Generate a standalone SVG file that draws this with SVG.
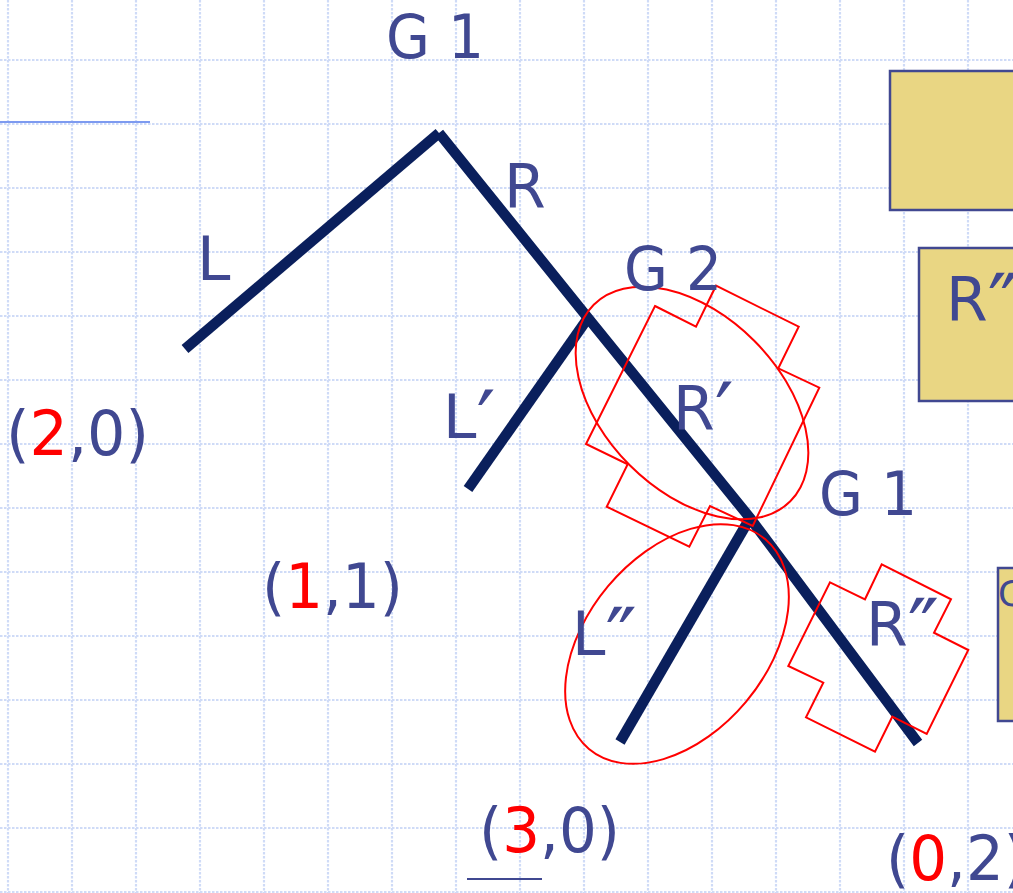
<svg xmlns="http://www.w3.org/2000/svg" width="1013" height="893" viewBox="0 0 1013 893">
<defs>
<style>
.grid line{stroke:#cfdbf7;stroke-width:2.2;stroke-dasharray:2.5 1.5}
.tree{stroke:#0a1f5c;stroke-width:10.5;fill:none;stroke-linecap:butt}
.red{stroke:#ff0000;stroke-width:2;fill:none}
.box{fill:#e9d683;stroke:#414891;stroke-width:2.5}
text{font-family:"DejaVu Sans","Liberation Sans",sans-serif;font-size:60px;fill:#404891}
.c{font-size:62px}
.r{fill:#ff0000}
.p{font-size:84px}
</style>
</defs>
<rect width="1013" height="893" fill="#ffffff"/>
<g class="grid" id="grid">
<line x1="8" y1="0" x2="8" y2="893"/><line x1="72" y1="0" x2="72" y2="893"/><line x1="136" y1="0" x2="136" y2="893"/><line x1="200" y1="0" x2="200" y2="893"/><line x1="264" y1="0" x2="264" y2="893"/><line x1="328" y1="0" x2="328" y2="893"/><line x1="392" y1="0" x2="392" y2="893"/><line x1="456" y1="0" x2="456" y2="893"/><line x1="520" y1="0" x2="520" y2="893"/><line x1="584" y1="0" x2="584" y2="893"/><line x1="648" y1="0" x2="648" y2="893"/><line x1="712" y1="0" x2="712" y2="893"/><line x1="776" y1="0" x2="776" y2="893"/><line x1="840" y1="0" x2="840" y2="893"/><line x1="904" y1="0" x2="904" y2="893"/><line x1="968" y1="0" x2="968" y2="893"/>
<line x1="0" y1="60" x2="1013" y2="60"/><line x1="0" y1="124" x2="1013" y2="124"/><line x1="0" y1="188" x2="1013" y2="188"/><line x1="0" y1="252" x2="1013" y2="252"/><line x1="0" y1="316" x2="1013" y2="316"/><line x1="0" y1="380" x2="1013" y2="380"/><line x1="0" y1="444" x2="1013" y2="444"/><line x1="0" y1="508" x2="1013" y2="508"/><line x1="0" y1="572" x2="1013" y2="572"/><line x1="0" y1="636" x2="1013" y2="636"/><line x1="0" y1="700" x2="1013" y2="700"/><line x1="0" y1="764" x2="1013" y2="764"/><line x1="0" y1="828" x2="1013" y2="828"/><line x1="0" y1="892" x2="1013" y2="892"/>
</g>
<line x1="0" y1="122" x2="150" y2="122" stroke="#7d9af0" stroke-width="2"/>
<line x1="467" y1="879" x2="542" y2="879" stroke="#404891" stroke-width="2"/>
<g id="box1"><rect class="box" x="890" y="71" width="140" height="139"/></g>
<g id="box2"><rect class="box" x="919" y="248" width="110" height="153"/><text x="946" y="321">R<tspan class="p" dy="13">″</tspan></text></g>
<g id="box3"><rect class="box" x="998" y="568" width="40" height="153"/><text x="998" y="606" style="font-size:36px">C</text></g>
<g id="connectors">
<line class="tree" x1="439" y1="133" x2="185" y2="349"/>
<polyline class="tree" points="439,133 588,318 750,518 918,743"/>
<line class="tree" x1="588" y1="318" x2="468" y2="489"/>
<line class="tree" x1="750" y1="518" x2="620" y2="742"/>
</g>
<g id="highlights">
<ellipse class="red" cx="692" cy="403" rx="139" ry="88" transform="rotate(45 692 403)"/>
<ellipse class="red" cx="677" cy="644" rx="137" ry="90" transform="rotate(-50 677 644)"/>
<polygon class="red" points="655,306 696,326.7 716,285.7 798.7,326.7 778.3,368.3 819.3,387.7 752.7,526 710,506 689.3,546.7 606.7,506.7 627.7,464.3 586,444"/>
<polygon class="red" points="830,582.3 865,599.3 881.7,564.3 951,599.3 934,632.7 968.3,650 926.7,734 892.3,716.7 875,751.7 806,717.3 823.3,682.7 788.3,666"/>
</g>
<g id="g1-top"><text x="386" y="58" textLength="98" lengthAdjust="spacingAndGlyphs">G 1</text></g>
<g id="label-R"><text x="504" y="208">R</text></g>
<g id="label-L"><text x="197" y="280">L</text></g>
<g id="g2"><text x="624" y="290" textLength="98" lengthAdjust="spacingAndGlyphs">G 2</text></g>
<g id="label-L1"><text x="443" y="438">L<tspan class="p" dy="13">′</tspan></text></g>
<g id="label-R1"><text x="673" y="430">R<tspan class="p" dy="13">′</tspan></text></g>
<g id="g1-mid"><text x="819" y="515" textLength="98" lengthAdjust="spacingAndGlyphs">G 1</text></g>
<g id="label-L2"><text x="572" y="655">L<tspan class="p" dy="13">″</tspan></text></g>
<g id="label-R2"><text x="866" y="646">R<tspan class="p" dy="13">″</tspan></text></g>
<g id="pay-20"><text class="c" x="6" y="455" textLength="143" lengthAdjust="spacingAndGlyphs">(<tspan class="r">2</tspan>,0)</text></g>
<g id="pay-11"><text class="c" x="262" y="608" textLength="141" lengthAdjust="spacingAndGlyphs">(<tspan class="r">1</tspan>,1)</text></g>
<g id="pay-30"><text class="c" x="479" y="852" textLength="141" lengthAdjust="spacingAndGlyphs">(<tspan class="r">3</tspan>,0)</text></g>
<g id="pay-02"><text class="c" x="886" y="880" textLength="141" lengthAdjust="spacingAndGlyphs">(<tspan class="r">0</tspan>,2)</text></g>
</svg>
